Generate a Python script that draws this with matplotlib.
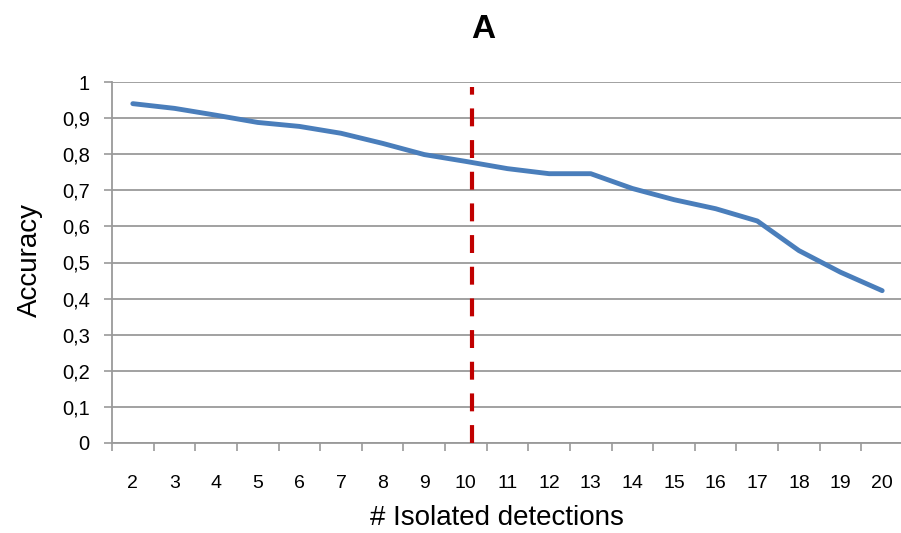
import matplotlib
matplotlib.use("Agg")
import matplotlib.pyplot as plt
from matplotlib.ticker import FuncFormatter, FixedLocator

plt.rcParams["font.family"] = ["Liberation Sans", "DejaVu Sans"]

detections = [2, 3, 4, 5, 6, 7, 8, 9, 10, 11, 12, 13, 14, 15, 16, 17, 18, 19, 20]
accuracy = [0.94, 0.927, 0.908, 0.888, 0.877, 0.858, 0.830, 0.799, 0.780, 0.760,
            0.746, 0.746, 0.705, 0.674, 0.649, 0.615, 0.533, 0.473, 0.422]
threshold = 10.15

fig = plt.figure(figsize=(9.01, 5.33), dpi=100)
ax = fig.add_axes([112 / 901, 90 / 533, 791 / 901, 361 / 533])

grey = "#9a9a9a"
ax.plot(detections, accuracy, color="#4A7EBB", lw=3.5, solid_capstyle="round", zorder=3)
ax.plot([threshold, threshold], [0, 0.985], color="#C00000", lw=3,
        linestyle=(0, (4.3, 3.3)), zorder=4)

ax.set_xlim(1.5, 20.5)
ax.set_ylim(0, 1)
ax.set_yticks([i / 10 for i in range(11)])
ax.yaxis.set_major_formatter(FuncFormatter(
    lambda v, p: "0" if v == 0 else ("1" if v == 1 else f"{v:.1f}".replace(".", ","))))
ax.grid(axis="y", color=grey, lw=1.3)
ax.set_axisbelow(True)

# category labels centered, tick marks between categories
ax.set_xticks(detections)
ax.set_xticklabels([str(d) for d in detections])
ax.tick_params(axis="x", which="major", length=0, pad=23, labelsize=14)
ax.xaxis.set_minor_locator(FixedLocator([d - 0.5 for d in detections] + [20.5]))
ax.tick_params(axis="x", which="minor", length=6, color=grey, width=1.2)
ax.tick_params(axis="y", length=6, color=grey, width=1.2, labelsize=14.5, pad=10)

for s in ["top", "right"]:
    ax.spines[s].set_visible(False)
for s in ["left", "bottom"]:
    ax.spines[s].set_color(grey)
    ax.spines[s].set_linewidth(1.3)

fig.text(497 / 901, 1 - 518 / 533, "# Isolated detections", ha="center", va="center", fontsize=20)
fig.text(30 / 901, 1 - 260 / 533, "Accuracy", ha="center", va="center", rotation=90, fontsize=20)
fig.text(483 / 901, 1 - 30 / 533, "A", ha="center", va="center", fontsize=24, fontweight="bold")

fig.savefig("out.png", dpi=100)
